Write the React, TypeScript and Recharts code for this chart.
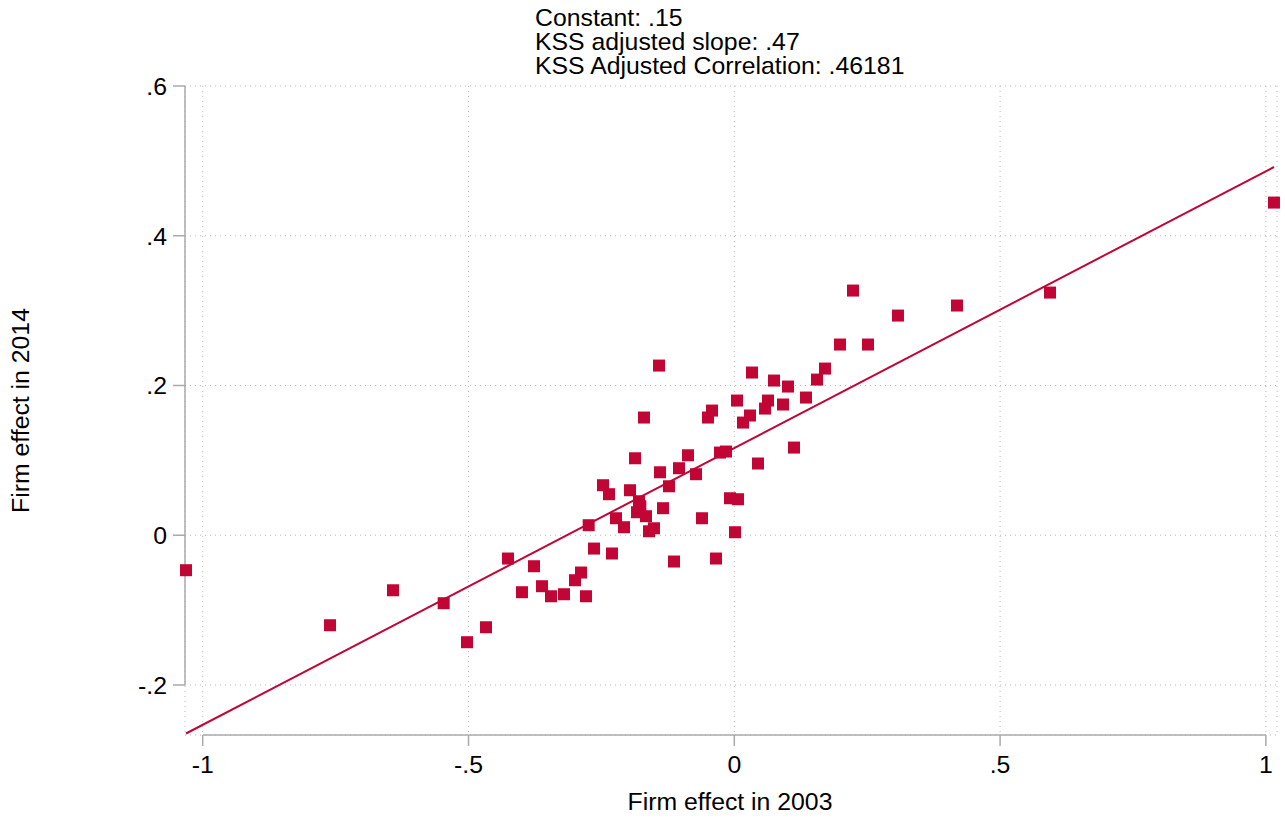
import React from 'react';
import { ScatterChart, Scatter, XAxis, YAxis, CartesianGrid, ReferenceLine } from 'recharts';

// Firm effects
const firmEffect2003 = [
  -1.0314, -0.7605, -0.642, -0.5467, -0.5028, -0.4671, -0.4257, -0.3994, -0.3768, -0.3617,
  -0.3448, -0.3204, -0.2997, -0.2884, -0.279, -0.2739, -0.2639, -0.247, -0.2357, -0.2301,
  -0.2225, -0.2075, -0.1962, -0.1868, -0.183, -0.1793, -0.1768, -0.1699, -0.1661, -0.1605,
  -0.1511, -0.1416, -0.1398, -0.1341, -0.1228, -0.1134, -0.104, -0.0871, -0.072, -0.0608,
  -0.0495, -0.0419, -0.0344, -0.0269, -0.0156, -0.0081, 0.0013, 0.0051, 0.007, 0.0164,
  0.0295, 0.0333, 0.0446, 0.0578, 0.0634, 0.0747, 0.0916, 0.101, 0.1123, 0.1349,
  0.1556, 0.1706, 0.1988, 0.2233, 0.2515, 0.3079, 0.4189, 0.5939, 1.0152,
];
const firmEffect2014 = [
  -0.0467, -0.1202, -0.0735, -0.0908, -0.1429, -0.1229, -0.0311, -0.0761, -0.0414, -0.0681,
  -0.0815, -0.0788, -0.0601, -0.0498, -0.0815, 0.0134, -0.0178, 0.0668, 0.0548, -0.0244,
  0.0227, 0.0107, 0.0601, 0.1028, 0.0307, 0.0454, 0.0387, 0.1572, 0.0254, 0.0053,
  0.0093, 0.2266, 0.0841, 0.0361, 0.0654, -0.0351, 0.0895, 0.1068, 0.0815, 0.0227,
  0.1572, 0.1665, -0.0311, 0.1104, 0.1118, 0.0494, 0.004, 0.1799, 0.0481, 0.1505,
  0.1599, 0.2173, 0.0958, 0.1692, 0.1799, 0.2066, 0.1746, 0.1986, 0.1171, 0.1839,
  0.2079, 0.2226, 0.2547, 0.3268, 0.2547, 0.2934, 0.3068, 0.3241, 0.4443,
];

// Fitted line as drawn in the picture
const fitConstant = 0.1165;
const fitSlope = 0.3697;

const xTicks = [-1, -0.5, 0, 0.5, 1];
const yTicks = [-0.2, 0, 0.2, 0.4, 0.6];
const xDomain = [-1.0333, 1.0209];
const yDomain = [-0.2668, 0.6];

const annotationLines = ['Constant: .15', 'KSS adjusted slope: .47', 'KSS Adjusted Correlation: .46181'];
const xTitle = 'Firm effect in 2003';
const yTitle = 'Firm effect in 2014';

const RED = '#C10534';
const AXIS = '#aaaaaa';
const GRID = '#b8b8b8';
const FONT = '"Liberation Sans", Arial, Helvetica, sans-serif';
const FS = 24.8;

const points = firmEffect2003.map((x, i) => ({ x, y: firmEffect2014[i] }));
const minX = Math.min(...firmEffect2003);
const maxX = Math.max(...firmEffect2003);
const fitData = [minX, maxX].map((x) => ({ x, y: fitConstant + fitSlope * x }));

const fmt = (v: number) => {
  if (v === 0) return '0';
  const a = Math.abs(v);
  const s = a < 1 ? String(a).replace(/^0/, '') : String(a);
  return (v < 0 ? '-' : '') + s;
};

const Square = (props: any) => {
  const { cx, cy } = props;
  if (cx == null || cy == null) return <g />;
  return <rect x={cx - 6} y={cy - 6} width={12} height={12} fill={RED} />;
};

const XTitle = (props: any) => {
  const vb = props.viewBox || {};
  return (
    <text x={vb.x + vb.width / 2 - 1} y={vb.y + 75} textAnchor="middle" fontSize={FS} fontFamily={FONT} fill="#000">
      {xTitle}
    </text>
  );
};

const YTitleAndNotes = (props: any) => {
  const vb = props.viewBox || {};
  const cy = vb.y + vb.height / 2;
  return (
    <g>
      <text
        x={29}
        y={cy}
        textAnchor="middle"
        fontSize={FS}
        fontFamily={FONT}
        fill="#000"
        transform={`rotate(-90, 29, ${cy})`}
      >
        {yTitle}
      </text>
      {annotationLines.map((t, i) => (
        <text key={i} x={535} y={25.7 + i * 24} fontSize={FS} fontFamily={FONT} fill="#000">
          {t}
        </text>
      ))}
    </g>
  );
};

export default function App() {
  return (
    <div style={{ position: 'absolute', left: 0, top: 0, width: 1285, height: 819, background: '#fff' }}>
      <ScatterChart
        width={1285}
        height={819}
        margin={{ top: 86, right: 8, bottom: 0, left: 0 }}
        style={{ fontFamily: FONT }}
      >
        <CartesianGrid stroke={GRID} strokeDasharray="1 4" strokeWidth={1} />
        <XAxis
          type="number"
          dataKey="x"
          domain={xDomain}
          ticks={xTicks}
          tickFormatter={fmt}
          axisLine={false}
          tickLine={{ stroke: AXIS, strokeWidth: 1.5 }}
          tickSize={11}
          tickMargin={9}
          height={84}
          tick={{ fill: '#000', fontSize: FS, fontFamily: FONT }}
          interval={0}
          label={XTitle}
        />
        <YAxis
          type="number"
          dataKey="y"
          domain={yDomain}
          ticks={yTicks}
          tickFormatter={fmt}
          axisLine={false}
          tickLine={{ stroke: AXIS, strokeWidth: 1.5 }}
          tickSize={12}
          tickMargin={6}
          width={185}
          tick={{ fill: '#000', fontSize: FS, fontFamily: FONT }}
          interval={0}
          label={YTitleAndNotes}
        />
        <ReferenceLine
          segment={[{ x: -1, y: yDomain[0] }, { x: 1, y: yDomain[0] }]}
          stroke={AXIS}
          strokeWidth={1.5}
        />
        <ReferenceLine
          segment={[{ x: xDomain[0], y: -0.2 }, { x: xDomain[0], y: 0.6 }]}
          stroke={AXIS}
          strokeWidth={1.5}
        />
        <Scatter data={points} shape={Square} isAnimationActive={false} />
        <Scatter
          data={fitData}
          line={{ stroke: RED, strokeWidth: 2 }}
          shape={() => <g />}
          isAnimationActive={false}
        />
      </ScatterChart>
    </div>
  );
}
